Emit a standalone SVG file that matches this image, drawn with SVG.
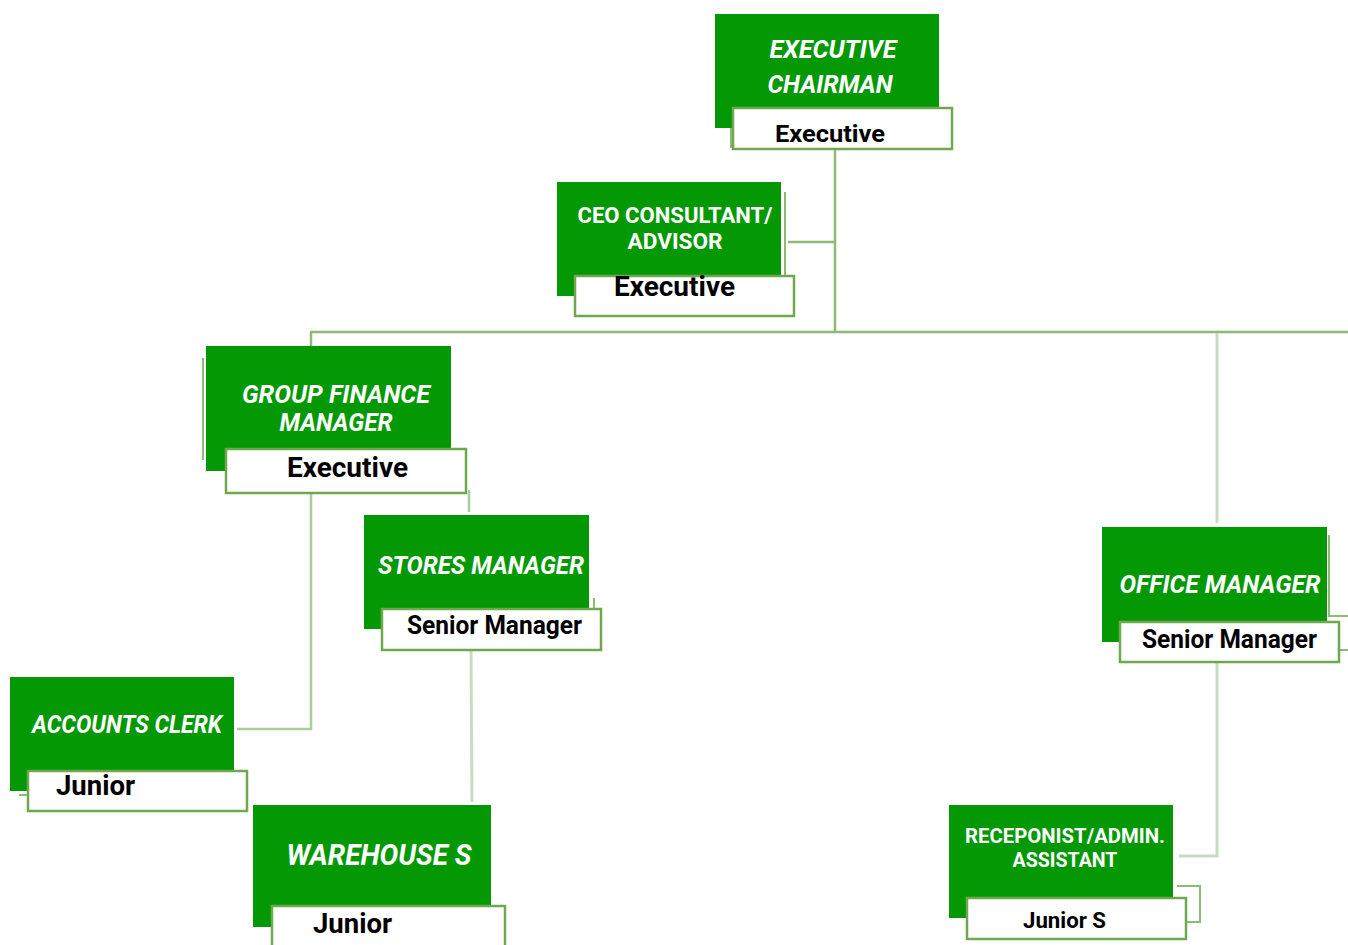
<svg xmlns="http://www.w3.org/2000/svg" width="1348" height="945" viewBox="0 0 1348 945">
<style>
.g{fill:#049904}
.w{fill:#fff;stroke:#6FA84E;stroke-width:2.5}
.t{font-family:Roboto,"Liberation Sans",sans-serif;font-weight:bold;fill:#fff;text-anchor:middle}
.i{font-style:italic}
.k{font-family:Roboto,"Liberation Sans",sans-serif;font-weight:bold;fill:#000}
.c1{fill:none;stroke:#8DBB74;stroke-width:2.5}
.c2{fill:none;stroke:#A8CF98;stroke-width:2.5}
.c3{fill:none;stroke:#C6DDC0;stroke-width:3}
.th{fill:none;stroke:#8DBB74;stroke-width:2}
</style>
<rect width="1348" height="945" fill="#fff"/>
<g id="connectors">
<path class="c1" d="M835 149V332M788 242H835M310 332H1348M311 332V346"/>
<path class="c3" d="M1217 333V523"/>
<path class="c2" d="M311 494V729H237"/>
<path class="c2" d="M469 490V512"/>
<path class="c3" d="M471 650L472 802"/>
<path class="c3" d="M1217 663V856H1179"/>
<path class="th" d="M1329 535V616H1348M1340 650H1348"/>
<path class="th" d="M1177 886H1200V922H1187"/>
<path class="th" d="M594 598V608"/>
<path class="th" d="M19 795H28"/>
<path class="th" d="M785 192V276"/>
<path class="th" d="M203 358V460"/>
<path class="th" d="M731 128V148"/>
</g>
<g id="executive-chairman">
<rect class="g" x="715" y="14" width="224" height="114"/>
<rect class="w" x="733" y="108" width="219" height="41"/>
<text class="t i" x="833" y="58" font-size="25" textLength="127" lengthAdjust="spacingAndGlyphs">EXECUTIVE</text>
<text class="t i" x="830" y="93" font-size="25" textLength="125" lengthAdjust="spacingAndGlyphs">CHAIRMAN</text>
<text class="k" x="775" y="142" font-size="24" textLength="110" lengthAdjust="spacingAndGlyphs">Executive</text>
</g>
<g id="ceo-consultant">
<rect class="g" x="557" y="182" width="224" height="114"/>
<rect class="w" x="575" y="276" width="219" height="40"/>
<text class="t" x="675" y="223" font-size="22" textLength="195" lengthAdjust="spacingAndGlyphs">CEO CONSULTANT/</text>
<text class="t" x="675" y="249" font-size="22" textLength="95" lengthAdjust="spacingAndGlyphs">ADVISOR</text>
<text class="k" x="614" y="296" font-size="28" textLength="121" lengthAdjust="spacingAndGlyphs">Executive</text>
</g>
<g id="group-finance-manager">
<rect class="g" x="206" y="346" width="245" height="125"/>
<rect class="w" x="226" y="449" width="240" height="44"/>
<text class="t i" x="336" y="403" font-size="25" textLength="188" lengthAdjust="spacingAndGlyphs">GROUP FINANCE</text>
<text class="t i" x="336" y="431" font-size="25" textLength="113" lengthAdjust="spacingAndGlyphs">MANAGER</text>
<text class="k" x="287" y="477" font-size="28" textLength="121" lengthAdjust="spacingAndGlyphs">Executive</text>
</g>
<g id="stores-manager">
<rect class="g" x="364" y="515" width="225" height="114"/>
<rect class="w" x="382" y="609" width="219" height="41"/>
<text class="t i" x="481" y="574" font-size="25" textLength="206" lengthAdjust="spacingAndGlyphs">STORES MANAGER</text>
<text class="k" x="407" y="634" font-size="25" textLength="175" lengthAdjust="spacingAndGlyphs">Senior Manager</text>
</g>
<g id="office-manager">
<rect class="g" x="1102" y="527" width="225" height="115"/>
<rect class="w" x="1120" y="622" width="219" height="40"/>
<text class="t i" x="1220" y="593" font-size="25" textLength="201" lengthAdjust="spacingAndGlyphs">OFFICE MANAGER</text>
<text class="k" x="1142" y="648" font-size="25" textLength="175" lengthAdjust="spacingAndGlyphs">Senior Manager</text>
</g>
<g id="accounts-clerk">
<rect class="g" x="10" y="677" width="224" height="114"/>
<rect class="w" x="28" y="771" width="219" height="40"/>
<text class="t i" x="127" y="733" font-size="25" textLength="190" lengthAdjust="spacingAndGlyphs">ACCOUNTS CLERK</text>
<text class="k" x="56" y="795" font-size="28" textLength="79" lengthAdjust="spacingAndGlyphs">Junior</text>
</g>
<g id="warehouse-s">
<rect class="g" x="253" y="805" width="238" height="122"/>
<rect class="w" x="272" y="906" width="233" height="45"/>
<text class="t i" x="379" y="865" font-size="29" textLength="185" lengthAdjust="spacingAndGlyphs">WAREHOUSE S</text>
<text class="k" x="313" y="933" font-size="28" textLength="79" lengthAdjust="spacingAndGlyphs">Junior</text>
</g>
<g id="receptionist">
<rect class="g" x="949" y="805" width="224" height="113"/>
<rect class="w" x="967" y="898" width="219" height="41"/>
<text class="t" x="1065" y="843" font-size="20" textLength="200" lengthAdjust="spacingAndGlyphs">RECEPONIST/ADMIN.</text>
<text class="t" x="1065" y="867" font-size="20" textLength="105" lengthAdjust="spacingAndGlyphs">ASSISTANT</text>
<text class="k" x="1023" y="928" font-size="22" textLength="83" lengthAdjust="spacingAndGlyphs">Junior S</text>
</g>
</svg>
